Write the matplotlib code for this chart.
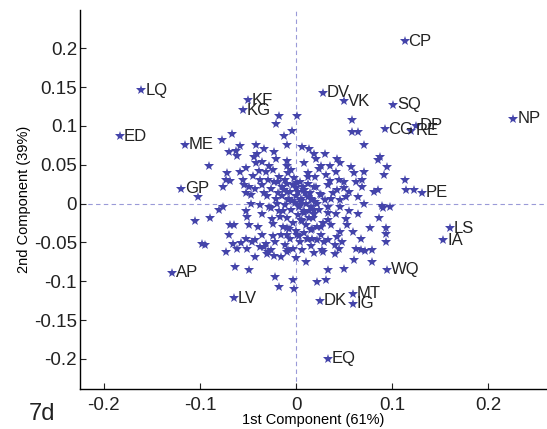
import matplotlib.pyplot as plt

plt.rcParams['font.family'] = ['Liberation Sans', 'DejaVu Sans']

# labelled items (1st component, 2nd component)
names = ['CP', 'LQ', 'ED', 'KF', 'KG', 'DV', 'VK', 'SQ', 'CG', 'DP', 'RE', 'NP',
         'ME', 'GP', 'PE', 'LS', 'IA', 'WQ', 'AP', 'LV', 'DK', 'MT', 'IG', 'EQ']
pc1 = [0.113, -0.161, -0.183, -0.050, -0.055, 0.028, 0.050, 0.101, 0.092, 0.125, 0.120, 0.226,
       -0.116, -0.120, 0.131, 0.160, 0.153, 0.095, -0.129, -0.065, 0.025, 0.059, 0.059, 0.033]
pc2 = [0.209, 0.146, 0.087, 0.133, 0.120, 0.143, 0.132, 0.127, 0.096, 0.100, 0.094, 0.109,
       0.076, 0.019, 0.014, -0.032, -0.047, -0.085, -0.089, -0.122, -0.125, -0.116, -0.129, -0.200]

# unlabelled items, grouped by region
ul_x = [-0.067, -0.077, -0.058, -0.070, -0.063, -0.061, -0.042, -0.041, -0.033, -0.023,
        -0.013, -0.010, -0.021, -0.018, -0.004, -0.091, -0.072, -0.073, -0.058, -0.052,
        -0.042, -0.035, -0.039, -0.031, -0.021, -0.010, -0.009, -0.005, -0.024, -0.018,
        -0.012, -0.015, -0.023, -0.029, -0.055, -0.054, -0.049, -0.043, -0.069, -0.076,
        -0.035, -0.026, -0.033, -0.019, -0.010, -0.003, -0.007, -0.021, -0.047, -0.052,
        -0.102]
ul_y = [0.089, 0.082, 0.074, 0.067, 0.068, 0.061, 0.075, 0.064, 0.070, 0.067,
        0.087, 0.075, 0.103, 0.113, 0.094, 0.048, 0.040, 0.031, 0.041, 0.046,
        0.052, 0.053, 0.042, 0.041, 0.058, 0.055, 0.049, 0.043, 0.043, 0.034,
        0.030, 0.021, 0.028, 0.030, 0.030, 0.024, 0.021, 0.019, 0.029, 0.021,
        0.024, 0.019, 0.013, 0.013, 0.015, 0.024, 0.006, 0.006, 0.011, 0.013,
        0.009]

ur_x = [0.001, 0.058, 0.058, 0.064, 0.071, 0.006, 0.013, 0.019, 0.030, 0.008,
        0.021, 0.026, 0.043, 0.046, 0.057, 0.060, 0.071, 0.085, 0.087, 0.095,
        0.091, 0.012, 0.031, 0.041, 0.050, 0.062, 0.069, 0.069, 0.081, 0.085,
        0.001, 0.008, 0.019, 0.033, 0.043, 0.055, 0.064, 0.005, 0.015, 0.026,
        0.036, 0.046, 0.020, 0.035, 0.113, 0.114, 0.123, 0.052]
ur_y = [0.113, 0.108, 0.092, 0.092, 0.075, 0.073, 0.070, 0.064, 0.064, 0.052,
        0.057, 0.049, 0.057, 0.052, 0.047, 0.039, 0.041, 0.056, 0.060, 0.047,
        0.037, 0.034, 0.037, 0.041, 0.028, 0.028, 0.030, 0.021, 0.015, 0.017,
        0.026, 0.017, 0.021, 0.024, 0.017, 0.015, 0.009, 0.006, 0.006, 0.011,
        0.006, 0.004, 0.034, 0.029, 0.031, 0.018, 0.018, 0.008]

ll_x = [-0.076, -0.090, -0.098, -0.069, -0.065, -0.070, -0.052, -0.051, -0.049, -0.047,
        -0.038, -0.035, -0.026, -0.024, -0.017, -0.014, -0.010, -0.010, -0.066, -0.061,
        -0.057, -0.052, -0.046, -0.073, -0.051, -0.043, -0.043, -0.038, -0.033, -0.029,
        -0.031, -0.026, -0.023, -0.016, -0.024, -0.012, -0.008, -0.064, -0.049, -0.022,
        -0.018, -0.003, -0.002, -0.105, -0.095, -0.080]
ll_y = [-0.005, -0.018, -0.052, -0.027, -0.027, -0.041, -0.009, -0.017, -0.028, -0.001,
        -0.002, -0.013, -0.006, -0.026, -0.017, -0.009, -0.032, -0.041, -0.052, -0.059,
        -0.051, -0.046, -0.049, -0.062, -0.058, -0.047, -0.069, -0.056, -0.056, -0.062,
        -0.052, -0.060, -0.067, -0.069, -0.042, -0.054, -0.060, -0.082, -0.086, -0.094,
        -0.108, -0.099, -0.110, -0.023, -0.053, -0.008]

lr_x = [0.071, 0.089, 0.098, 0.064, 0.053, 0.059, 0.077, 0.094, 0.093, 0.062,
        0.067, 0.072, 0.079, 0.060, 0.079, 0.033, 0.050, 0.010, 0.031, 0.022,
        0.046, 0.033, 0.040, 0.045, 0.019, 0.027, 0.043, 0.001, 0.012, 0.022,
        0.015, 0.026, 0.033, 0.041, 0.046, 0.033, 0.019, 0.005, 0.008, 0.022,
        0.055, 0.093, 0.068, 0.086, 0.090]
lr_y = [-0.001, -0.003, -0.004, -0.013, -0.028, -0.037, -0.032, -0.032, -0.049, -0.059,
        -0.060, -0.061, -0.060, -0.073, -0.075, -0.086, -0.084, -0.075, -0.099, -0.101,
        -0.036, -0.047, -0.053, -0.058, -0.064, -0.060, -0.043, -0.041, -0.045, -0.047,
        -0.034, -0.030, -0.021, -0.013, -0.004, -0.004, -0.013, -0.021, -0.009, -0.000,
        -0.009, -0.039, -0.045, -0.018, -0.006]

core_x = [0.000, 0.005, 0.010, 0.003, -0.005, 0.008, 0.012, 0.015, -0.008, -0.012,
          0.002, 0.006, -0.003, 0.010, -0.010, 0.018, 0.020, 0.000, -0.006, 0.008,
          0.014, -0.015, -0.018, 0.024, 0.004, -0.002, 0.012, -0.010, 0.000, 0.008,
          -0.006, 0.004, -0.014, 0.016, 0.025, 0.028, -0.020, 0.011, -0.003, 0.006,
          0.015, -0.010, 0.000, 0.017, 0.009, -0.001, 0.013, 0.004]
core_y = [0.010, 0.003, 0.000, -0.005, -0.008, -0.012, 0.008, -0.004, 0.005, -0.002,
          -0.015, -0.022, -0.025, -0.028, -0.018, -0.018, 0.002, 0.020, 0.015, 0.018,
          0.014, 0.010, -0.010, -0.008, 0.028, 0.033, 0.025, 0.025, -0.035, -0.038,
          -0.045, -0.050, -0.030, -0.033, 0.012, -0.025, 0.000, -0.045, -0.058, -0.060,
          -0.055, -0.062, -0.070, 0.005, 0.013, 0.001, -0.010, -0.002]

ring_x = [0.002, 0.007, -0.004, 0.013, 0.019, 0.022, -0.007, 0.003, 0.017, 0.026,
          -0.016, -0.013, -0.019, 0.021, 0.030, 0.033, 0.036, 0.029, 0.038, -0.025,
          -0.028, -0.030, -0.038, -0.045, -0.040, -0.036, 0.045, 0.050, 0.052, 0.048,
          0.040, 0.028, -0.022, -0.030, -0.044, 0.012, -0.008, 0.024, 0.035, -0.028]
ring_y = [0.015, 0.022, 0.003, -0.018, -0.008, -0.030, -0.033, -0.042, -0.045, -0.040,
          -0.040, 0.018, 0.028, 0.022, 0.005, -0.012, -0.028, -0.050, 0.014, -0.020,
          -0.005, 0.010, 0.030, 0.035, -0.030, -0.040, 0.030, 0.020, -0.020, -0.050,
          -0.065, -0.062, -0.050, -0.065, 0.060, 0.040, 0.040, 0.045, 0.048, 0.048]

star_color = '#4444aa'
line_color = '#9a9ad8'

fig = plt.figure(figsize=(5.47, 4.29), dpi=100)
ax = fig.add_axes([0.146, 0.093, 0.854, 0.883])

ax.axhline(0, color=line_color, lw=0.8, ls=(0, (4, 3)), zorder=0)
ax.axvline(0, color=line_color, lw=0.8, ls=(0, (4, 3)), zorder=0)

groups = [(ul_x, ul_y), (ur_x, ur_y), (ll_x, ll_y), (lr_x, lr_y),
          (core_x, core_y), (ring_x, ring_y), (pc1, pc2)]
for xs, ys in groups:
    ax.plot(xs, ys, '*', color=star_color, ms=7, mew=0)

for name, x, y in zip(names, pc1, pc2):
    ax.text(x + 0.004, y, name, fontsize=12, ha='left', va='center', color='#222222')

ax.set_xlim(-0.225, 0.261)
ax.set_ylim(-0.239, 0.249)
ax.set_xticks([-0.2, -0.1, 0, 0.1, 0.2])
ax.set_xticklabels(['-0.2', '-0.1', '0', '0.1', '0.2'])
ax.set_yticks([-0.2, -0.15, -0.1, -0.05, 0, 0.05, 0.1, 0.15, 0.2])
ax.set_yticklabels(['-0.2', '-0.15', '-0.1', '-0.05', '0', '0.05', '0.1', '0.15', '0.2'])
ax.tick_params(direction='in', length=4, labelsize=13.5, colors='#222222')
ax.tick_params(axis='x', pad=6)
ax.tick_params(axis='y', pad=2)
ax.spines['top'].set_visible(False)
ax.spines['right'].set_visible(False)
ax.spines['left'].set_linewidth(1.0)
ax.spines['bottom'].set_linewidth(1.0)
ax.set_xlabel('1st Component (61%)', fontsize=10.5, labelpad=-1)
ax.set_ylabel('2nd Component (39%)', fontsize=10.5, labelpad=2)
fig.text(0.052, 0.022, '7d', fontsize=17, color='#222222')

plt.savefig('out.png', dpi=100)
plt.close()
